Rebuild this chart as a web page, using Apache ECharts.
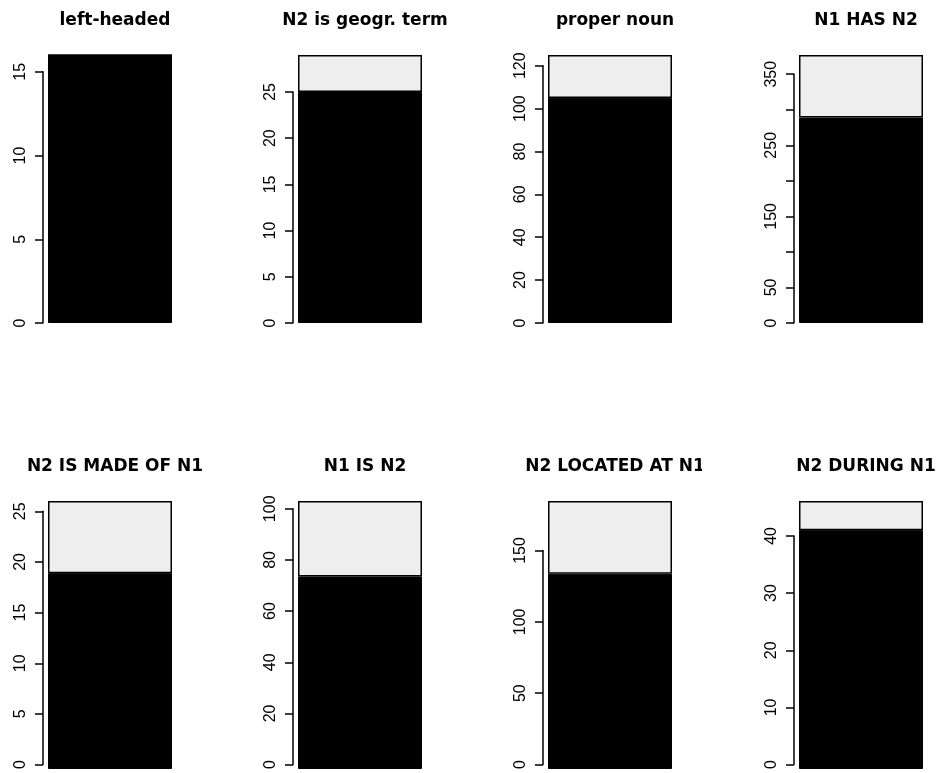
<!DOCTYPE html>
<html lang="en">
<head>
<meta charset="UTF-8">
<title>barplots</title>
<script src="https://cdn.jsdelivr.net/npm/echarts@6/dist/echarts.min.js"></script>
<style>
  html, body { margin: 0; padding: 0; background: #fff; }
  #main { position: relative; width: 936px; height: 773px; }
  .panel { position: absolute; width: 234px; height: 386px; }
</style>
</head>
<body>
<div id="main"></div>
<script>
// one panel per title, lower = black part, upper = light part
var titles = ['left-headed', 'N2 is geogr. term', 'proper noun', 'N1 HAS N2',
              'N2 IS MADE OF N1', 'N1 IS N2', 'N2 LOCATED AT N1', 'N2 DURING N1'];
var lowerCounts = [16, 25, 105, 289, 19, 74, 134, 41];
var upperCounts = [0, 4, 20, 88, 7, 29, 50, 5];
// y axis ticks: step, last tick, and which ticks carry a label
var tickStep = [5, 5, 20, 50, 5, 20, 50, 10];
var tickMax = [15, 25, 120, 350, 25, 100, 150, 40];
var tickLabels = [
  [0, 5, 10, 15],
  [0, 5, 10, 15, 20, 25],
  [0, 20, 40, 60, 80, 100, 120],
  [0, 50, 150, 250, 350],
  [0, 5, 10, 15, 20, 25],
  [0, 20, 40, 60, 80, 100],
  [0, 50, 100, 150],
  [0, 10, 20, 30, 40]
];

var panelW = 234, panelH = 386;
var barLeft = [48, 298, 548, 799];   // page x of each column's bar
var barTop = [55, 501];              // page y of each row's plot top
var plotW = 124, plotH = 268;

function drawPanel(i) {
  var c = i % 4, r = Math.floor(i / 4);
  var div = document.createElement('div');
  div.className = 'panel';
  div.style.left = (c * panelW) + 'px';
  div.style.top = (r * panelH) + 'px';
  document.getElementById('main').appendChild(div);

  var left = barLeft[c] - c * panelW;
  var top = barTop[r] - r * panelH;
  var total = lowerCounts[i] + upperCounts[i];
  var axH = plotH * tickMax[i] / total;   // axis only reaches the last tick
  var labels = tickLabels[i];

  var chart = echarts.init(div);
  chart.setOption({
    animation: false,
    title: {
      text: titles[i], left: left + plotW / 2, top: top - 48, textAlign: 'center',
      textStyle: { fontFamily: 'DejaVu Sans', fontWeight: 'bold', fontSize: 17, color: '#000' }
    },
    grid: [
      { left: left, top: top, width: plotW, height: plotH },
      { left: left, top: top + plotH - axH, width: plotW, height: axH }
    ],
    xAxis: [
      { type: 'category', gridIndex: 0, data: [''], show: false },
      { type: 'category', gridIndex: 1, data: [''], show: false }
    ],
    yAxis: [
      { type: 'value', gridIndex: 0, min: 0, max: total, show: false },
      {
        type: 'value', gridIndex: 1, min: 0, max: tickMax[i], interval: tickStep[i],
        offset: 5,
        splitLine: { show: false },
        axisLine: { show: true, lineStyle: { color: '#000', width: 1.5 } },
        axisTick: { show: true, length: 8, lineStyle: { color: '#000', width: 1.5 } },
        axisLabel: {
          rotate: 90, margin: 14, color: '#000', fontSize: 16,
          fontFamily: 'Liberation Sans',
          formatter: function (v) { return labels.indexOf(v) >= 0 ? String(v) : ''; }
        }
      }
    ],
    series: [
      {
        type: 'bar', stack: 'n', barWidth: '100%', data: [lowerCounts[i]],
        itemStyle: { color: '#000', borderColor: '#000', borderWidth: 1 }
      },
      {
        type: 'bar', stack: 'n', barWidth: '100%', data: [upperCounts[i]],
        itemStyle: { color: '#eeeeee', borderColor: '#000', borderWidth: 1.5 }
      }
    ]
  });
}

for (var i = 0; i < titles.length; i++) {
  try { drawPanel(i); } catch (e) { console.log(e); }
}
</script>
</body>
</html>
